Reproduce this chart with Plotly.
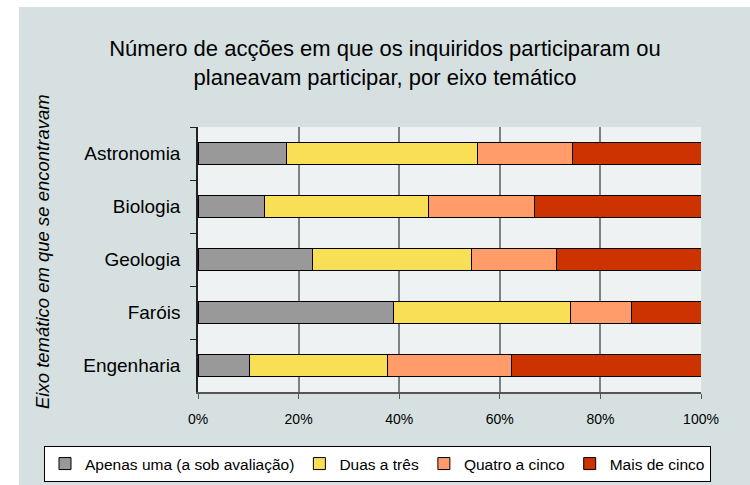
import plotly.graph_objects as go

categories = ["Astronomia", "Biologia", "Geologia", "Faróis", "Engenharia"]
series_names = ["Apenas uma (a sob avaliação)", "Duas a três", "Quatro a cinco", "Mais de cinco"]
apenas_uma = [17.5, 13.2, 22.7, 38.9, 10.3]
duas_a_tres = [38.1, 32.6, 31.6, 35.1, 27.3]
quatro_a_cinco = [18.8, 21.0, 16.9, 12.2, 24.8]
mais_de_cinco = [25.6, 33.2, 28.8, 13.8, 37.6]
colors = ["#999999", "#F8DF55", "#FF9C6A", "#CC3300"]
x_ticks = [0, 20, 40, 60, 80, 100]
x_tick_labels = ["0%", "20%", "40%", "60%", "80%", "100%"]

series_values = [apenas_uma, duas_a_tres, quatro_a_cinco, mais_de_cinco]

FONT = "Liberation Sans, Arial, sans-serif"

fig = go.Figure()
for name, vals, col in zip(series_names, series_values, colors):
    fig.add_trace(go.Bar(
        y=categories, x=vals, name=name, orientation="h",
        marker=dict(color=col, line=dict(color="#000000", width=1)),
    ))

L, R, T, B = 198, 49, 127, 93
W, H = 750, 485
pw, ph = W - L - R, H - T - B

def px_x(p):
    return (p - L) / pw

def px_y(p):
    return (H - B - p) / ph

fig.update_layout(
    width=W, height=H,
    barmode="stack", bargap=0.59,
    margin=dict(l=L, r=R, t=T, b=B, autoexpand=False),
    paper_bgcolor="white", plot_bgcolor="#eef2f2",
    font=dict(family=FONT, color="#000000"),
    title=dict(
        text="Número de acções em que os inquiridos participaram ou<br>planeavam participar, por eixo temático",
        x=385 / W, xanchor="center", y=1 - 56 / H, yanchor="top",
        font=dict(size=22, family=FONT, color="#000000"),
    ),
    xaxis=dict(
        range=[0, 100], tickvals=x_ticks, ticktext=x_tick_labels,
        showgrid=True, gridcolor="#808080", gridwidth=1.5,
        showline=True, linecolor="#555555", linewidth=1.5,
        ticks="outside", ticklen=5, tickcolor="#555555",
        tickfont=dict(size=14, family=FONT), zeroline=False,
        ticklabelstandoff=8, automargin=False,
    ),
    yaxis=dict(
        categoryorder="array", categoryarray=categories, autorange="reversed",
        showline=True, linecolor="#222222", linewidth=1.5,
        ticks="outside", ticklen=6, tickcolor="#222222", tickson="boundaries",
        tickfont=dict(size=19, family=FONT), ticklabelstandoff=12,
        automargin=False,
    ),
    legend=dict(
        orientation="h", xref="paper", yref="paper",
        x=px_x(44), xanchor="left", y=px_y(446), yanchor="top",
        bgcolor="white", bordercolor="#000000", borderwidth=1,
        font=dict(size=15.5, family=FONT), traceorder="normal",
        itemwidth=30, tracegroupgap=0,
    ),
    showlegend=True,
    annotations=[
        dict(text="<i>Eixo temático em que se encontravam</i>",
             xref="paper", yref="paper", x=px_x(42), y=px_y(252),
             xanchor="center", yanchor="middle", textangle=-90,
             showarrow=False, font=dict(size=18.5, family=FONT, color="#000000")),
    ],
    shapes=[
        dict(type="rect", xref="paper", yref="paper",
             x0=px_x(19), x1=px_x(W), y0=px_y(H), y1=px_y(7),
             fillcolor="#d6e0e0", line=dict(width=0), layer="below"),
        dict(type="rect", xref="paper", yref="paper",
             x0=0, x1=1, y0=0, y1=1,
             fillcolor="#eef2f2", line=dict(width=0), layer="below"),
    ],
)

fig.write_html("out.html", config={"displayModeBar": False},
               post_script="document.body.style.margin='0';")
